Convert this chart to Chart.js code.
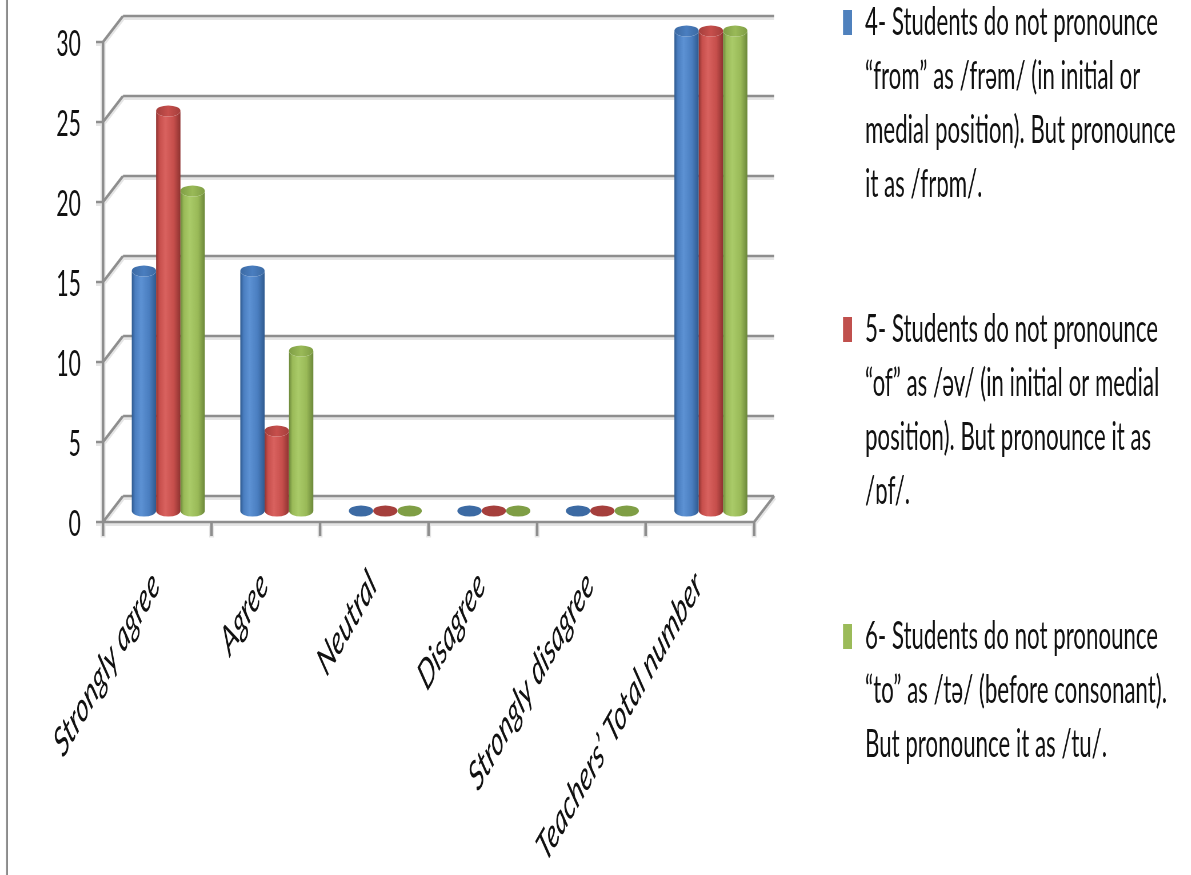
<!DOCTYPE html>
<html>
<head>
<meta charset="utf-8">
<script src="https://cdn.jsdelivr.net/npm/chart.js@4.4.1/dist/chart.umd.min.js"></script>
<style>
  html, body { margin: 0; padding: 0; overflow: hidden; background: #fff; width: 1191px; height: 875px; }
  /* the chart is laid out wide and condensed horizontally, giving the tall narrow lettering */
  #wrap { position: absolute; left: 0; top: 0; width: 2084px; height: 875px;
          transform: scaleX(0.5714286); transform-origin: 0 0; }
</style>
</head>
<body>
<div id="wrap"><canvas id="c"></canvas></div>
<script>
// ---- data ----
const categories = ['Strongly agree', 'Agree', 'Neutral', 'Disagree', 'Strongly disagree', 'Teachers’ Total number'];

const series4 = [15, 15, 0, 0, 0, 30];
const series5 = [25, 5, 0, 0, 0, 30];
const series6 = [20, 10, 0, 0, 0, 30];

const label4 = ['4- Students do not pronounce', '“from” as /frəm/ (in initial or', 'medial position). But pronounce', 'it as /frɒm/.'];
const label5 = ['5- Students do not pronounce', '“of” as /əv/ (in initial or medial', 'position). But pronounce it as', '/ɒf/.'];
const label6 = ['6- Students do not pronounce', '“to” as /tə/ (before consonant).', 'But pronounce it as /tu/.'];

const yMin = 0, yMax = 30, yStep = 5;

// ---- style ----
const K = 1.75;                      // horizontal condensation factor of the page
const FRONT = { dx: -11, dy: 11 };   // front plane of the 3-D box, relative to the bar plane
const BACK  = { dx: 9,   dy: -15 };  // back wall, relative to the bar plane
const palette = [
  { light: '#5d92d4', mid: '#4a7ec0', dark: '#2f5a8f', top: '#3c6aa3', key: '#4f81bd' },
  { light: '#d9625f', mid: '#c74f4c', dark: '#8f3331', top: '#a53f3c', key: '#c0504d' },
  { light: '#aacb69', mid: '#9aba58', dark: '#6c883a', top: '#7f9e45', key: '#9bbb59' }
];
const FONT = 'Lato, "Open Sans", sans-serif';
const INK = '#111111';

function drawCylinder(ctx, cx, top, base, w, c) {
  const rx = w / 2, ry = 5.5;
  if (base - top > 0.5) {
    const g = ctx.createLinearGradient(cx - rx, 0, cx + rx, 0);
    g.addColorStop(0, c.dark);
    g.addColorStop(0.14, c.mid);
    g.addColorStop(0.38, c.light);
    g.addColorStop(0.72, c.mid);
    g.addColorStop(1, c.dark);
    ctx.beginPath();
    ctx.moveTo(cx - rx, top);
    ctx.lineTo(cx - rx, base);
    ctx.ellipse(cx, base, rx, ry, 0, Math.PI, 0, true);
    ctx.lineTo(cx + rx, top);
    ctx.ellipse(cx, top, rx, ry, 0, 0, Math.PI, false);
    ctx.closePath();
    ctx.fillStyle = g;
    ctx.fill();
  }
  const t = ctx.createLinearGradient(cx - rx, 0, cx + rx, 0);
  t.addColorStop(0, c.top);
  t.addColorStop(0.5, c.mid);
  t.addColorStop(1, c.top);
  ctx.beginPath();
  ctx.ellipse(cx, top, rx, ry, 0, 0, Math.PI * 2);
  ctx.fillStyle = base - top > 0.5 ? t : c.top;
  ctx.fill();
}

// walls, floor, gridlines and ticks of the 3-D box
const frame3d = {
  id: 'frame3d',
  beforeDatasetsDraw(chart) {
    const { ctx, chartArea: a, scales: { x, y } } = chart;
    const L = a.left / K, R = a.right / K;
    const n = categories.length;
    const segs = [];
    const seg = (x1, y1, x2, y2) => segs.push([x1, y1, x2, y2]);
    y.ticks.forEach(t => {
      const yp = y.getPixelForValue(t.value);
      const yb = yp + BACK.dy, yf = yp + FRONT.dy;
      seg(L + BACK.dx, yb, R + BACK.dx, yb);
      seg(L + FRONT.dx, yf, L + BACK.dx, yb);
      seg(L + FRONT.dx - 7, yf, L + FRONT.dx, yf);
    });
    const y0 = y.getPixelForValue(yMin), yT = y.getPixelForValue(yMax);
    seg(L + FRONT.dx, yT + FRONT.dy, L + FRONT.dx, y0 + FRONT.dy + 14);
    seg(L + FRONT.dx, y0 + FRONT.dy, R + FRONT.dx, y0 + FRONT.dy);
    seg(R + FRONT.dx, y0 + FRONT.dy, R + BACK.dx, y0 + BACK.dy);
    for (let i = 1; i <= n; i++) {
      const bx = x.getPixelForValue(i - 0.5) / K + FRONT.dx;
      seg(bx, y0 + FRONT.dy, bx, y0 + FRONT.dy + 14);
    }
    ctx.save();
    ctx.scale(K, 1);
    ctx.lineCap = 'butt';
    // soft shadow pass, then the line itself
    ctx.strokeStyle = 'rgba(0,0,0,0.10)';
    ctx.lineWidth = 5;
    ctx.beginPath();
    segs.forEach(s => { ctx.moveTo(s[0], s[1] + 1.5); ctx.lineTo(s[2], s[3] + 1.5); });
    ctx.stroke();
    ctx.strokeStyle = '#8e8e8e';
    ctx.lineWidth = 2.6;
    ctx.beginPath();
    segs.forEach(s => { ctx.moveTo(s[0], s[1]); ctx.lineTo(s[2], s[3]); });
    ctx.stroke();
    // outer frame edge
    ctx.strokeStyle = '#8a8a8a';
    ctx.lineWidth = 2;
    ctx.beginPath();
    ctx.moveTo(7, 0); ctx.lineTo(7, 875);
    ctx.stroke();
    ctx.restore();
  },
  afterDatasetsDraw(chart) {
    const { ctx } = chart;
    ctx.save();
    for (let i = 0; i < categories.length; i++) {
      chart.data.datasets.forEach((ds, d) => {
        const el = chart.getDatasetMeta(d).data[i];
        const p = el.getProps(['x', 'y', 'base', 'width'], true);
        drawCylinder(ctx, p.x, p.y, p.base, p.width, palette[d]);
      });
    }
    ctx.restore();
  }
};

// legend on the right, one wrapped entry per series
const sideLegend = {
  id: 'sideLegend',
  afterDraw(chart) {
    const { ctx } = chart;
    const lines = [label4, label5, label6];
    ctx.save();
    ctx.font = '39px ' + FONT;
    ctx.textBaseline = 'alphabetic';
    ctx.textAlign = 'left';
    chart.data.datasets.forEach((ds, d) => {
      const b0 = 35 + d * 307;
      ctx.fillStyle = palette[d].key;
      ctx.fillRect(843 * K, b0 - 25, 9 * K, 25);
      ctx.fillStyle = INK;
      lines[d].forEach((ln, j) => ctx.fillText(ln, 865 * K, b0 + j * 54));
    });
    ctx.restore();
  }
};

function build() {
  new Chart(document.getElementById('c'), {
    type: 'bar',
    data: {
      labels: categories,
      datasets: [
        { label: label4.join(' '), data: series4 },
        { label: label5.join(' '), data: series5 },
        { label: label6.join(' '), data: series6 }
      ].map(ds => Object.assign(ds, {
        backgroundColor: 'rgba(0,0,0,0)', borderWidth: 0,
        categoryPercentage: 0.673, barPercentage: 1.0
      }))
    },
    options: {
      responsive: true,
      maintainAspectRatio: false,
      animation: false,
      layout: { padding: { top: 31, right: 745, left: 0, bottom: 0 } },
      plugins: { legend: { display: false }, tooltip: { enabled: false } },
      scales: {
        x: {
          grid: { display: false, drawTicks: false },
          border: { display: false },
          ticks: {
            autoSkip: false, minRotation: 45, maxRotation: 45,
            padding: 50, labelOffset: -22,
            color: INK,
            font: { family: FONT, size: 41, style: 'italic' }
          },
          afterFit(s) { s.height = 364; s.paddingLeft = 0; s.paddingRight = 0; }
        },
        y: {
          min: yMin, max: yMax,
          grid: { display: false, drawTicks: false },
          border: { display: false },
          ticks: {
            stepSize: yStep, padding: 58, labelOffset: 13,
            color: INK,
            font: { family: FONT, size: 37 }
          },
          afterFit(s) { s.width = 199.5; s.paddingTop = 0; s.paddingBottom = 0; }
        }
      }
    },
    plugins: [frame3d, sideLegend]
  });
}

Promise.all([
  document.fonts.load('36px Lato'),
  document.fonts.load('italic 36px Lato')
]).catch(() => {}).then(build);
</script>
</body>
</html>
